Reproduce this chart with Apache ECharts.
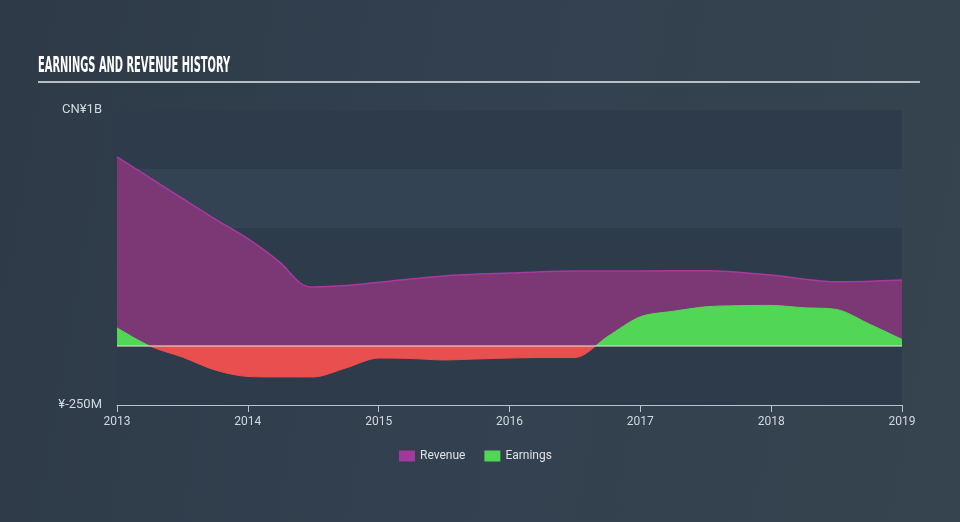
<!DOCTYPE html>
<html>
<head>
<meta charset="utf-8">
<style>
html,body{margin:0;padding:0;width:960px;height:522px;overflow:hidden;}
body{background:linear-gradient(100deg,#2e3a48 0%,#334150 55%,#36444f 100%);}
#chart{width:960px;height:522px;}
</style>
<script src="https://cdn.jsdelivr.net/npm/echarts@6/dist/echarts.min.js"></script>
</head>
<body>
<div id="chart"></div>
<script>
// Decimal years and values in CN¥ millions
const revenueYears = [2013.0, 2013.25, 2013.5, 2013.75, 2014.0, 2014.25, 2014.4, 2014.5, 2014.75, 2015.0, 2015.5, 2016.0, 2016.5, 2017.0, 2017.5, 2018.0, 2018.5, 2019.0];
const revenueValues = [801, 713, 625, 538, 455, 352, 267, 250, 256, 270, 297, 309, 318, 318, 319, 301, 272, 280];

const earningsYears = [2013.0, 2013.25, 2013.5, 2013.75, 2014.0, 2014.25, 2014.5, 2014.75, 2015.0, 2015.25, 2015.5, 2015.75, 2016.0, 2016.25, 2016.5, 2016.75, 2017.0, 2017.25, 2017.5, 2017.75, 2018.0, 2018.25, 2018.5, 2018.75, 2019.0];
const earningsValues = [77, 0, -47, -102, -129, -131, -131, -93, -51, -53, -59, -55, -51, -49, -49, 40, 124, 147, 166, 171, 172, 162, 155, 93, 28];

const xTicks = [2013, 2014, 2015, 2016, 2017, 2018, 2019];
const yMin = -250, yMax = 1000, yStep = 250;
const yLabelTop = 'CN¥1B';
const yLabelBottom = '¥-250M';

const chart = echarts.init(document.getElementById('chart'), null, {renderer: 'canvas'});
const font = 'Roboto, "Noto Sans", sans-serif';

chart.setOption({
  backgroundColor: 'transparent',
  animation: false,
  graphic: [{
    type: 'text', left: 38, top: 56, scaleX: 0.523, silent: true,
    style: {text: 'EARNINGS AND REVENUE HISTORY', fill: '#ffffff',
      font: 'bold 21px "Liberation Sans Narrow", "DejaVu Sans Condensed", sans-serif'}
  }, {
    type: 'rect', left: 38, top: 81, shape: {width: 882, height: 2}, style: {fill: '#b8bec6'}, silent: true
  }],
  legend: {
    bottom: 55, left: 394,
    icon: 'rect', itemWidth: 16, itemHeight: 11, itemGap: 19,
    textStyle: {color: '#dde1e5', fontSize: 12, fontFamily: font},
    data: ['Revenue', 'Earnings']
  },
  grid: {left: 117, right: 58, top: 110, bottom: 117, containLabel: false},
  xAxis: {
    type: 'value', min: 2013, max: 2019, interval: 1,
    axisLine: {show: true, onZero: false, lineStyle: {color: '#b7c3cf', width: 1}},
    axisTick: {show: true, length: 7, lineStyle: {color: '#b7c3cf'}},
    axisLabel: {color: '#d3d8dd', fontSize: 12, fontFamily: font, margin: 11,
      formatter: v => xTicks.indexOf(v) >= 0 ? String(v) : ''},
    splitLine: {show: false}
  },
  yAxis: {
    type: 'value', min: yMin, max: yMax, interval: yStep,
    axisLine: {show: false}, axisTick: {show: false},
    splitLine: {show: false},
    splitArea: {show: true, areaStyle: {color: ['#2e3b4a', '#344353']}},
    axisLabel: {color: '#d3d8dd', fontSize: 13, fontFamily: font, margin: 15,
      formatter: v => v === yMax ? yLabelTop : (v === yMin ? yLabelBottom : '')}
  },
  visualMap: {
    show: false, type: 'piecewise', seriesIndex: 1, dimension: 1,
    pieces: [{gt: -10000, lte: 0, color: '#e94f4f'}, {gt: 0, lte: 10000, color: '#52d655'}]
  },
  series: [{
    name: 'Revenue', type: 'line', z: 2,
    data: revenueYears.map((x, i) => [x, revenueValues[i]]),
    smooth: 0.3, showSymbol: false, symbol: 'none',
    itemStyle: {color: '#a3399d'},
    lineStyle: {color: '#a8399f', width: 1.5},
    areaStyle: {color: '#7b3874', opacity: 1}
  }, {
    name: 'Earnings', type: 'line', z: 3,
    data: earningsYears.map((x, i) => [x, earningsValues[i]]),
    smooth: 0.3, showSymbol: false, symbol: 'none',
    itemStyle: {color: '#52d655'},
    lineStyle: {width: 1},
    areaStyle: {opacity: 1},
    markLine: {
      silent: true, symbol: 'none', label: {show: false},
      lineStyle: {color: 'rgba(225,220,200,0.75)', width: 1.5, type: 'solid'},
      data: [{yAxis: 0}]
    }
  }]
});
</script>
</body>
</html>
